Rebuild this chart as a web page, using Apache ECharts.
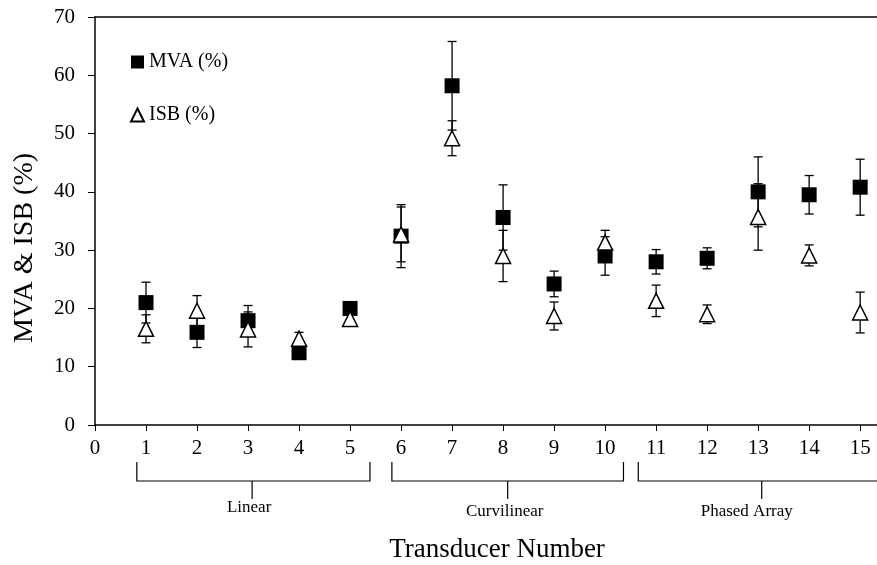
<!DOCTYPE html>
<html>
<head>
<meta charset="utf-8">
<script src="https://cdn.jsdelivr.net/npm/echarts@6/dist/echarts.min.js"></script>
<style>html,body{margin:0;padding:0;background:#fff}#c{width:877px;height:565px}</style>
</head>
<body>
<div id="c"></div>
<script>
const transducers = [1, 2, 3, 4, 5, 6, 7, 8, 9, 10, 11, 12, 13, 14, 15];
const mva    = [21.0, 15.9, 17.9, 12.4, 20.0, 32.4, 58.2, 35.6, 24.2, 29.0, 28.0, 28.6, 40.0, 39.5, 40.8];
const mvaErr = [3.5, 2.6, 2.6, 1.0, 0.8, 5.4, 7.6, 5.6, 2.2, 3.3, 2.1, 1.8, 6.0, 3.3, 4.8];
const isb    = [16.5, 19.6, 16.4, 14.8, 18.2, 32.7, 49.2, 29.0, 18.7, 31.3, 21.3, 19.0, 35.7, 29.1, 19.3];
const isbErr = [2.4, 2.6, 3.0, 1.1, 0.8, 4.7, 3.0, 4.4, 2.4, 2.1, 2.7, 1.6, 5.7, 1.8, 3.5];
const yTicks = [0, 10, 20, 30, 40, 50, 60, 70];
const groups = [
  {name: 'Linear', from: 0.82, to: 5.39, mid: 3.08},
  {name: 'Curvilinear', from: 5.82, to: 10.36, mid: 8.09},
  {name: 'Phased Array', from: 10.65, to: 15.4, mid: 13.07}
];
const xTitle = 'Transducer Number';
const yTitle = 'MVA & ISB (%)';

const FONT = '"Liberation Serif", "Times New Roman", serif';
const chart = echarts.init(document.getElementById('c'), null, {renderer: 'canvas'});

function errRender(params, api) {
  const x = api.value(0), lo = api.value(1), hi = api.value(2);
  const p1 = api.coord([x, lo]), p2 = api.coord([x, hi]);
  const w = 4.5;
  const st = {stroke: '#000', lineWidth: 1.3};
  return {type: 'group', children: [
    {type: 'line', shape: {x1: p1[0], y1: p1[1], x2: p2[0], y2: p2[1]}, style: st},
    {type: 'line', shape: {x1: p1[0] - w, y1: p1[1], x2: p1[0] + w, y2: p1[1]}, style: st},
    {type: 'line', shape: {x1: p2[0] - w, y1: p2[1], x2: p2[0] + w, y2: p2[1]}, style: st}
  ]};
}

const option = {
  animation: false,
  backgroundColor: '#fff',
  grid: {left: 95, right: 0, top: 17, bottom: 140, outerBoundsMode: 'none', containLabel: false},
  legend: {
    orient: 'vertical', left: 125, top: 47, itemGap: 33,
    itemWidth: 13, itemHeight: 13,
    data: ['MVA (%)', 'ISB (%)'],
    textStyle: {fontFamily: FONT, fontSize: 20, color: '#000'}
  },
  xAxis: [{
    type: 'value', min: 0, max: 15.33, interval: 1,
    splitLine: {show: false},
    axisLine: {lineStyle: {color: '#000', width: 1.5}},
    axisTick: {length: 6, lineStyle: {color: '#000'}},
    axisLabel: {fontFamily: FONT, fontSize: 21, color: '#000', margin: 13,
      showMaxLabel: false,
      formatter: v => (Math.abs(v - Math.round(v)) < 1e-6 ? String(Math.round(v)) : '')}
  }, {
    type: 'value', position: 'top', min: 0, max: 15.33,
    axisLine: {show: true, lineStyle: {color: '#000', width: 1.5}},
    axisTick: {show: false}, axisLabel: {show: false}, splitLine: {show: false}
  }],
  yAxis: {
    type: 'value', min: yTicks[0], max: yTicks[yTicks.length - 1], interval: 10,
    splitLine: {show: false},
    axisLine: {show: true, lineStyle: {color: '#000', width: 1.5}},
    axisTick: {show: true, length: 7, lineStyle: {color: '#000'}},
    axisLabel: {fontFamily: FONT, fontSize: 21, color: '#000', margin: 20}
  },
  series: [
    {type: 'custom', name: 'mvaErr', renderItem: errRender, z: 1,
     data: transducers.map((x, i) => [x, mva[i] - mvaErr[i], mva[i] + mvaErr[i]])},
    {type: 'custom', name: 'isbErr', renderItem: errRender, z: 1,
     data: transducers.map((x, i) => [x, isb[i] - isbErr[i], isb[i] + isbErr[i]])},
    {type: 'scatter', name: 'MVA (%)', symbol: 'rect', symbolSize: 15, z: 3,
     itemStyle: {color: '#000', opacity: 1},
     data: transducers.map((x, i) => [x, mva[i]])},
    {type: 'scatter', name: 'ISB (%)', symbol: 'triangle', symbolSize: 15, z: 4,
     itemStyle: {color: '#fff', borderColor: '#000', borderWidth: 1.5, opacity: 1},
     data: transducers.map((x, i) => [x, isb[i]])}
  ]
};
chart.setOption(option);

// group brackets and titles
const y0 = chart.convertToPixel({yAxisIndex: 0}, 0);
const gfx = [];
const ls = {stroke: '#000', lineWidth: 1.2};
groups.forEach((g, k) => {
  const xa = chart.convertToPixel({xAxisIndex: 0}, g.from);
  const xb = chart.convertToPixel({xAxisIndex: 0}, g.to);
  const xm = chart.convertToPixel({xAxisIndex: 0}, g.mid);
  gfx.push({type: 'polyline', shape: {points: [[xa, y0 + 37], [xa, y0 + 56], [xb, y0 + 56], [xb, y0 + 37]]}, style: Object.assign({fill: null}, ls)});
  gfx.push({type: 'line', shape: {x1: xm, y1: y0 + 56, x2: xm, y2: y0 + 74}, style: ls});
  const ty = k === 0 ? y0 + 83 : y0 + 87;
  const tx = k === 2 ? xm - 15 : xm - 3;
  gfx.push({type: 'text', x: tx, y: ty, style: {text: g.name, fontFamily: FONT, fontSize: 17, fill: '#000', align: 'center', verticalAlign: 'middle'}});
});
gfx.push({type: 'text', x: 497, y: y0 + 125, style: {text: xTitle, fontFamily: FONT, fontSize: 27, fill: '#000', align: 'center', verticalAlign: 'middle'}});
gfx.push({type: 'text', x: 25, y: 248, rotation: Math.PI / 2, style: {text: yTitle, fontFamily: FONT, fontSize: 28, fill: '#000', align: 'center', verticalAlign: 'middle'}});
chart.setOption({graphic: gfx});
</script>
</body>
</html>
